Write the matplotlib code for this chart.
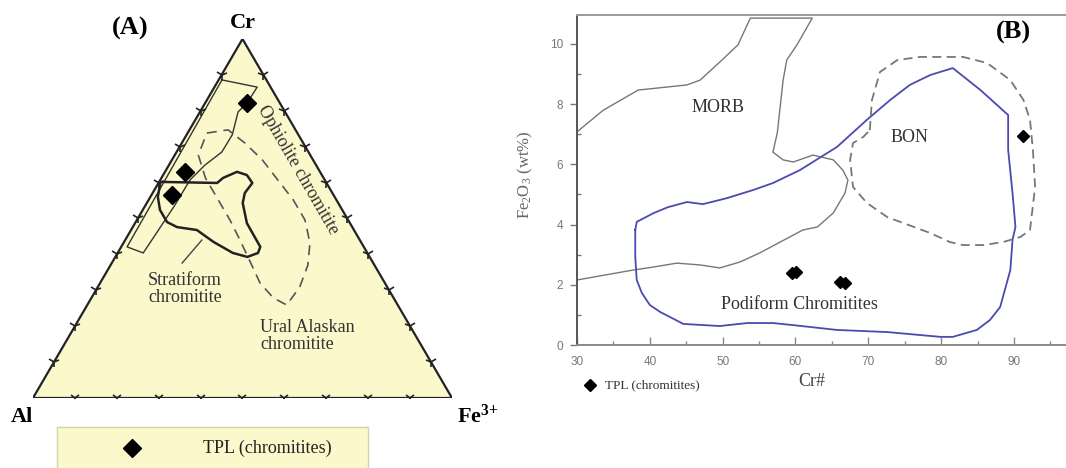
import numpy as np
import matplotlib
matplotlib.use('Agg')
import matplotlib.pyplot as plt
from matplotlib.markers import MarkerStyle
from matplotlib.patches import Polygon, Rectangle
from matplotlib.transforms import Affine2D

plt.rcParams['font.family'] = ['Liberation Serif', 'DejaVu Serif']
plt.rcParams['mathtext.default'] = 'regular'

# ---- (A) ternary Cr - Al - Fe3+ (values as Cr %, Fe3+ %; Al = remainder) ----
tpl_cr = [82.2, 63.0, 56.5]
tpl_fe = [10.0, 4.8, 4.9]

ophiolite_cr = [88.6, 86.6, 82.2, 79.7, 73.3, 68.5, 64.9, 60.7, 53.8, 47.4, 40.4, 42.1]
ophiolite_fe = [0.8, 10.2, 10.0, 9.1, 10.9, 10.8, 8.6, 7.1, 7.0, 6.6, 6.1, 1.4]

strat_cr = [60.2, 59.9, 61.3, 63.0, 62.1, 59.9, 57.1, 54.3, 48.7, 42.1, 40.4, 39.3,
            40.4, 43.5, 46.8, 47.6, 49.0, 52.4, 56.0, 60.2]
strat_fe = [0.3, 14.0, 14.7, 17.2, 20.0, 22.4, 22.0, 22.9, 26.7, 33.2, 33.5, 31.5,
            27.5, 21.3, 15.7, 10.6, 7.5, 4.1, 1.8, 0.3]

ural_cr = [73.8, 74.7, 71.0, 66.3, 60.7, 55.2, 49.6, 43.2, 37.0, 30.9, 25.9, 27.9,
           32.0, 37.9, 44.0, 49.6, 55.2, 61.3, 67.7, 73.8]
ural_fe = [4.6, 9.2, 15.1, 21.6, 28.1, 34.5, 40.1, 44.5, 47.1, 48.2, 47.6, 43.4,
           38.2, 32.9, 27.4, 22.2, 16.6, 10.5, 5.6, 4.6]

tick_fracs = np.arange(1, 10) / 10

# ---- (B) Cr# vs Fe2O3 ----
tpl_crn = [59.5, 60.1, 66.1, 66.8, 91.3]
tpl_fe2o3 = [2.39, 2.43, 2.09, 2.06, 6.95]

morb_x = [30.0, 33.6, 38.4, 45.1, 46.9, 49.6, 52.1, 53.8, 62.3, 60.2, 58.8, 58.3, 57.5,
          56.9, 58.3, 59.7, 62.4, 65.2, 66.5, 67.2, 66.8, 65.2, 63.0, 61.0, 55.1, 52.4,
          49.6, 46.9, 43.7, 40.5, 37.7, 30.0]
morb_y = [7.08, 7.8, 8.47, 8.64, 8.8, 9.4, 9.97, 10.86, 10.86, 9.97, 9.47, 8.8, 7.04,
          6.41, 6.15, 6.08, 6.31, 6.15, 5.81, 5.48, 5.05, 4.39, 3.92, 3.82, 3.06, 2.76,
          2.56, 2.66, 2.72, 2.59, 2.49, 2.16]

podi_x = [38.0, 38.2, 40.5, 42.5, 45.1, 47.3, 50.6, 54.2, 56.9, 60.6, 65.7, 69.8, 73.0,
          75.7, 78.5, 81.6, 85.4, 89.2, 89.2, 89.8, 90.2, 89.8, 89.5, 88.1, 86.7, 84.9,
          81.6, 79.9, 72.6, 65.7, 59.7, 56.9, 53.4, 49.6, 44.6, 41.4, 40.0, 38.9, 38.2,
          38.0, 38.0]
podi_y = [3.82, 4.09, 4.38, 4.58, 4.75, 4.68, 4.88, 5.15, 5.38, 5.81, 6.58, 7.48, 8.14,
          8.64, 8.97, 9.2, 8.47, 7.64, 6.48, 5.05, 3.92, 3.49, 2.49, 1.26, 0.83, 0.5,
          0.27, 0.27, 0.43, 0.5, 0.66, 0.73, 0.73, 0.63, 0.7, 1.1, 1.33, 1.73, 2.16,
          2.92, 3.82]

bon_x = [70.2, 70.5, 71.6, 74.0, 77.1, 83.0, 86.3, 89.5, 91.3, 92.2, 92.6, 92.9, 92.2,
         90.9, 88.5, 85.8, 83.0, 81.2, 78.5, 72.6, 69.8, 67.9, 67.5, 67.9, 69.3, 70.2]
bon_y = [7.14, 8.14, 9.07, 9.47, 9.57, 9.57, 9.37, 8.8, 8.14, 7.48, 6.48, 5.25, 3.82,
         3.59, 3.42, 3.32, 3.32, 3.42, 3.72, 4.25, 4.72, 5.25, 6.15, 6.71, 6.91, 7.14]


def tern(cr, fe):
    cr = np.asarray(cr) / 100.0
    fe = np.asarray(fe) / 100.0
    return fe + cr / 2.0, cr


fig = plt.figure(figsize=(10.66, 4.68), dpi=100)
yellow = '#fbf8cc'

# ================= Panel A =================
ax = fig.add_axes([33 / 1066, 70 / 468, 419 / 1066, 359 / 468])
ax.set_xlim(0, 1)
ax.set_ylim(0, 1)
ax.axis('off')

tri = Polygon([[0, 0], [1, 0], [0.5, 1]], closed=True, facecolor=yellow,
              edgecolor='#222222', linewidth=1.6, zorder=1)
ax.add_patch(tri)

# edge ticks
for f in tick_fracs:
    pts = [((f, 0), 0), ((f / 2, f), -120), ((1 - f / 2, f), 120)]
    for (x, y), rot in pts:
        m = MarkerStyle('1', transform=Affine2D().rotate_deg(rot))
        ax.plot(x, y, marker=m, color='#222222', markersize=8, mew=1.2, zorder=3)

ox, oy = tern(ophiolite_cr, ophiolite_fe)
ax.plot(np.append(ox, ox[0]), np.append(oy, oy[0]), color='#333333', lw=1.0, zorder=2)
sx, sy = tern(strat_cr, strat_fe)
ax.plot(sx, sy, color='#222222', lw=1.8, zorder=2)
ux, uy = tern(ural_cr, ural_fe)
ax.plot(ux, uy, color='#555555', lw=1.2, dashes=(6, 4), zorder=2)

px, py = tern(tpl_cr, tpl_fe)
ax.plot(px, py, 'D', color='black', markersize=9, zorder=4, clip_on=False)

ax.text(0.2315, 1.03, '(A)', fontsize=19, fontweight='bold', ha='center', va='center')
ax.text(0.501, 1.045, 'Cr', fontsize=16, fontweight='bold', ha='center', va='center')
ax.text(-0.026, -0.053, 'Al', fontsize=16, fontweight='bold', ha='center', va='center')
ax.text(1.012, -0.05, 'Fe$^{3{+}}$', fontsize=16, fontweight='bold', ha='left', va='center')

ax.text(0.632, 0.635, 'Ophiolite chromitite', fontsize=13, rotation=-60,
        ha='center', va='center', color='#333333')
ax.text(0.363, 0.304, 'Stratiform\nchromitite', fontsize=13, ha='center', va='center',
        color='#333333', linespacing=1.0)
ax.plot([0.356, 0.403], [0.376, 0.44], color='#444444', lw=1.0)
ax.text(0.542, 0.173, 'Ural Alaskan\nchromitite', fontsize=13, ha='left', va='center',
        color='#333333', linespacing=1.0)

# legend box
ax.add_patch(Rectangle((0.0573, -0.22), 0.742, 0.139, transform=ax.transAxes,
                       facecolor=yellow, edgecolor='#d6d2aa', lw=1.0, clip_on=False))
ax.plot([0.236], [-0.139], 'D', color='black', markersize=9, clip_on=False,
        transform=ax.transAxes)
ax.text(0.406, -0.139, 'TPL (chromitites)', fontsize=13, ha='left', va='center',
        transform=ax.transAxes, color='#222222')

# ================= Panel B =================
bx = fig.add_axes([577 / 1066, 123 / 468, 489 / 1066, 330 / 468])
bx.set_xlim(30, 30 + 489 / 7.283)
bx.set_ylim(0, 330 / 30.1)

bx.plot(morb_x, morb_y, color='#777777', lw=1.0)
bx.plot(podi_x, podi_y, color='#4a4ab0', lw=1.3)
bx.plot(bon_x, bon_y, color='#777777', lw=1.3, dashes=(5, 3))
bx.plot(tpl_crn, tpl_fe2o3, 'D', color='black', markersize=6.5)

bx.text(49.4, 7.9, 'MORB', fontsize=13, ha='center', va='center', color='#333333')
bx.text(75.7, 6.9, 'BON', fontsize=13, ha='center', va='center', color='#333333')
bx.text(60.6, 1.33, 'Podiform Chromitites', fontsize=13, ha='center', va='center',
        color='#333333')
bx.text(0.892, 0.948, '(B)', transform=bx.transAxes, fontsize=19, fontweight='bold',
        ha='center', va='center')

bx.spines['right'].set_visible(False)
bx.spines['top'].set_color('#9a9a9a')
bx.spines['top'].set_linewidth(1.4)
bx.spines['bottom'].set_color('#8a8a8a')
bx.spines['bottom'].set_linewidth(1.4)
bx.spines['left'].set_color('#555555')
bx.spines['left'].set_linewidth(1.4)

bx.set_xticks(range(30, 100, 10))
bx.set_xticks(range(35, 100, 10), minor=True)
bx.set_yticks(range(0, 11, 2))
bx.set_yticks(range(1, 11, 2), minor=True)
for lab in bx.get_xticklabels() + bx.get_yticklabels():
    lab.set_family(['Liberation Sans', 'DejaVu Sans'])
bx.tick_params(axis='x', which='major', direction='in', length=6, width=1, color='#888888',
               labelsize=8.5, labelcolor='#777777', pad=8)
bx.tick_params(axis='x', which='minor', direction='in', length=3, width=1, color='#888888')
bx.tick_params(axis='y', which='major', direction='out', length=5, width=1, color='#777777',
               labelsize=8.5, labelcolor='#777777', pad=5)
bx.tick_params(axis='y', which='minor', direction='in', length=3, width=1, color='#777777')

bx.set_xlabel('Cr#', fontsize=13, color='#444444')
bx.xaxis.set_label_coords(0.4806, -0.085)
bx.set_ylabel('Fe$_2$O$_3$ (wt%)', fontsize=12, color='#666666')
bx.yaxis.set_label_coords(-0.085, 0.515)

bx.plot([0.0266], [-0.121], 'D', color='black', markersize=6.5, transform=bx.transAxes,
        clip_on=False)
bx.text(0.0573, -0.121, 'TPL (chromitites)', fontsize=9.5, ha='left', va='center',
        transform=bx.transAxes, color='#333333')

fig.savefig('out.png', dpi=100)
